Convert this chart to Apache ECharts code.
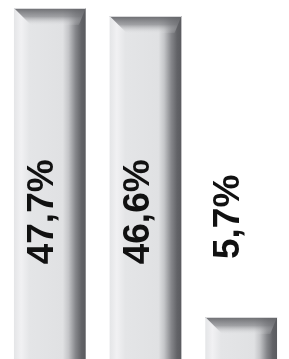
<!DOCTYPE html>
<html>
<head>
<meta charset="utf-8">
<script src="https://cdn.jsdelivr.net/npm/echarts@6/dist/echarts.min.js"></script>
<style>
html,body{margin:0;padding:0;background:#fff;}
#chart{width:289px;height:359px;}
</style>
</head>
<body>
<div id="chart"></div>
<script>
const categories = ['A', 'B', 'C'];
const values = [47.7, 46.6, 5.7];
const labelTexts = ['47,7%', '46,6%', '5,7%'];
const labelAtValue = 20;

const chart = echarts.init(document.getElementById('chart'), null, {renderer: 'canvas'});

function renderBar(params, api) {
  const i = api.value(0);
  const v = api.value(1);
  const top = api.coord([i, v]);
  const base = api.coord([i, 0]);
  const band = api.size([1, 0])[0];
  const w = band * 0.75;
  const x0 = top[0] - w / 2;
  const y0 = top[1];
  const h = base[1] - y0 + 12;
  const b = Math.min(17, h / 2);
  const children = [
    {
      type: 'rect',
      shape: {x: x0, y: y0, width: w, height: h},
      style: {
        fill: new echarts.graphic.LinearGradient(0, 0, 1, 0, [
          {offset: 0, color: '#e4e5e7'},
          {offset: 0.1, color: '#f1f1f3'},
          {offset: 0.22, color: '#e4e5e7'},
          {offset: 0.68, color: '#e0e1e3'},
          {offset: 0.76, color: '#c4c5c8'},
          {offset: 0.86, color: '#85868a'},
          {offset: 0.94, color: '#626367'},
          {offset: 1, color: '#5a5b5f'}
        ])
      }
    },
    {
      type: 'polygon',
      shape: {points: [[x0, y0], [x0 + w, y0], [x0 + w - b * 0.4, y0 + b], [x0 + b, y0 + b]]},
      style: {
        fill: new echarts.graphic.LinearGradient(0, 0, 0, 1, [
          {offset: 0, color: 'rgba(100,101,105,0.95)'},
          {offset: 0.5, color: 'rgba(130,131,135,0.7)'},
          {offset: 1, color: 'rgba(224,225,227,0.1)'}
        ])
      }
    },
    {
      type: 'rect',
      shape: {x: x0, y: y0, width: w, height: 1},
      style: {fill: '#d8d8da'}
    }
  ];
  const ly = api.coord([i, labelAtValue])[1];
  const lp = [top[0] - 7, Math.min(ly, y0 - 50)];
  const useY = (v > labelAtValue + 8) ? ly : Math.min(ly + 5, y0 - 60);
  children.push({
    type: 'text',
    x: top[0] - 7 + (v > labelAtValue ? 0 : -5),
    y: useY,
    rotation: Math.PI / 2,
    style: {
      text: labelTexts[i],
      font: 'bold 37px "Liberation Sans", Arial, sans-serif',
      fill: '#111111',
      align: 'center',
      verticalAlign: 'middle'
    }
  });
  return {type: 'group', children: children};
}

chart.setOption({
  animation: false,
  grid: {left: 2, width: 292, top: 8, bottom: 0, containLabel: false},
  xAxis: {type: 'category', data: categories, show: false},
  yAxis: {type: 'value', min: 0, max: Math.max(...values), show: false},
  series: [{
    type: 'custom',
    renderItem: renderBar,
    data: values.map((v, i) => [i, v]),
    clip: false
  }]
});
</script>
</body>
</html>
